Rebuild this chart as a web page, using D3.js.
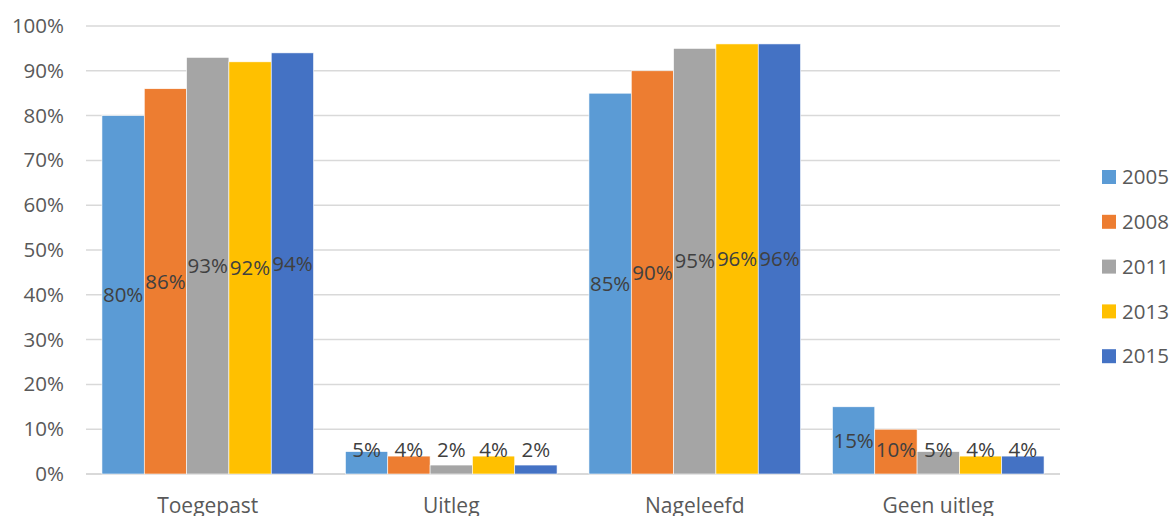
<!DOCTYPE html>
<html><head><meta charset="utf-8">
<script src="https://cdn.jsdelivr.net/npm/d3@7"></script>
<style>body{margin:0;background:#fff}svg{display:block;font-family:"Open Sans","Liberation Sans",sans-serif}</style>
</head><body><svg id="c" width="1172" height="516"></svg>
<script>
const categories = ["Toegepast","Uitleg","Nageleefd","Geen uitleg"];
const years = ["2005","2008","2011","2013","2015"];
const v2005 = [80,5,85,15];
const v2008 = [86,4,90,10];
const v2011 = [93,2,95,5];
const v2013 = [92,4,96,4];
const v2015 = [94,2,96,4];
const yTicks = [0,10,20,30,40,50,60,70,80,90,100];
const colors = ["#5B9BD5","#ED7D31","#A5A5A5","#FFC000","#4472C4"];
const series = [v2005,v2008,v2011,v2013,v2015];

const svg = d3.select("#c");
const L=86,R=1060,T=26,B=474;
const x = d3.scaleBand().domain(categories).range([L,R]).paddingInner(0.131).paddingOuter(0.0655);
const xs = d3.scaleBand().domain(years).range([0,x.bandwidth()]);
const y = d3.scaleLinear().domain([0,100]).range([B,T]);

svg.append("g").selectAll("line").data(yTicks).join("line")
  .attr("x1",L).attr("x2",R).attr("y1",d=>y(d)).attr("y2",d=>y(d))
  .attr("stroke","#d9d9d9").attr("stroke-width",d=>d===0?2:1.5);

const yAxis = svg.append("g").attr("transform",`translate(${L},0)`).call(d3.axisLeft(y).tickValues(yTicks).tickFormat(d=>d+"%").tickSize(0).tickPadding(22));
yAxis.select(".domain").remove();
yAxis.selectAll("text").attr("font-size",20.5).attr("fill","#595959").attr("font-family","Open Sans, Liberation Sans, sans-serif");

const xAxis = svg.append("g").attr("transform",`translate(0,${B})`).call(d3.axisBottom(x).tickSize(0).tickPadding(24));
xAxis.select(".domain").remove();
xAxis.selectAll("text").attr("font-size",21).attr("fill","#595959").attr("font-family","Open Sans, Liberation Sans, sans-serif");

const data=[];
categories.forEach((c,i)=>years.forEach((yr,j)=>data.push({c,yr,v:series[j][i],col:colors[j]})));
const g = svg.append("g");
g.selectAll("rect").data(data).join("rect")
  .attr("x",d=>x(d.c)+xs(d.yr)).attr("width",xs.bandwidth())
  .attr("y",d=>y(d.v)).attr("height",d=>B-y(d.v))
  .attr("fill",d=>d.col).attr("stroke","#fff").attr("stroke-width",0.6);
g.selectAll("text").data(data).join("text")
  .attr("x",d=>x(d.c)+xs(d.yr)+xs.bandwidth()/2)
  .attr("y",d=>Math.min(y(d.v/2),B-24))
  .attr("dy","0.35em").attr("text-anchor","middle")
  .attr("font-size",20.5).attr("fill","#404040").text(d=>d.v+"%");

const lg = svg.append("g");
years.forEach((yr,j)=>{
  const yy=177+j*44.8;
  lg.append("rect").attr("x",1102).attr("y",yy-7).attr("width",14).attr("height",14).attr("fill",colors[j]);
  lg.append("text").attr("x",1122).attr("y",yy).attr("dy","0.35em").attr("font-size",20.5).attr("fill","#595959").text(yr);
});
</script></body></html>
